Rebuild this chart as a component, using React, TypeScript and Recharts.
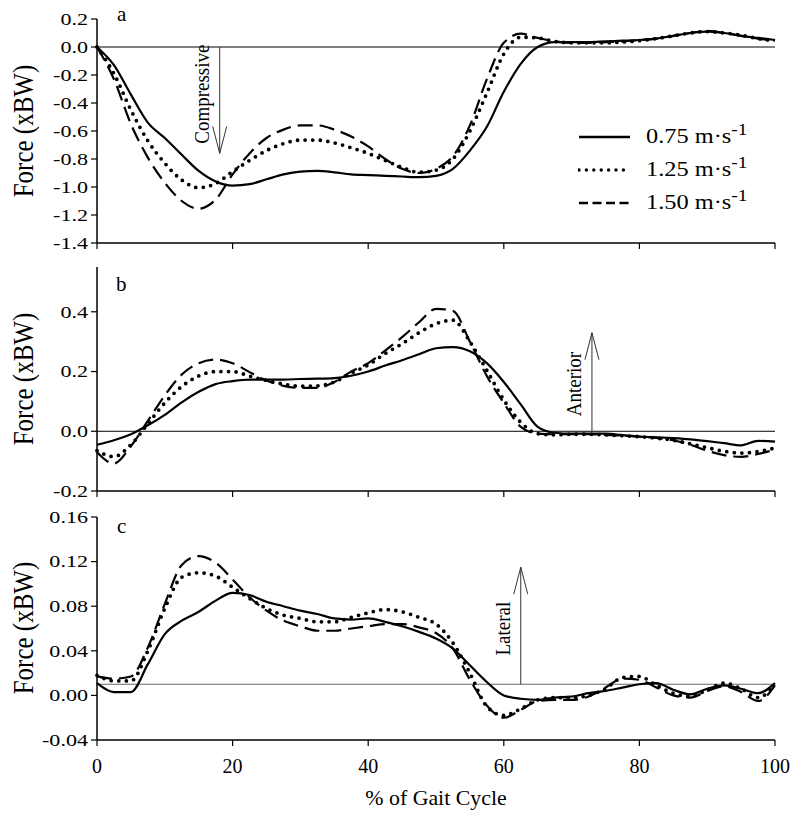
import React from "react";
import { LineChart, Line, XAxis, YAxis, ReferenceLine, Legend } from "recharts";

// % of gait cycle sampled every 2.5
const pct = [
  0, 2.5, 5, 7.5, 10, 12.5, 15, 17.5, 20, 22.5, 25, 27.5, 30, 32.5, 35, 37.5, 40, 42.5, 45, 47.5,
  50, 52.5, 55, 57.5, 60, 62.5, 65, 67.5, 70, 72.5, 75, 77.5, 80, 82.5, 85, 87.5, 90, 92.5, 95, 97.5, 100,
];

const speeds = ["0.75", "1.25", "1.50"];

// a: vertical force
const vert075 = [0, -0.13, -0.34, -0.54, -0.65, -0.77, -0.885, -0.96, -0.99, -0.98, -0.945, -0.91, -0.89, -0.885, -0.895, -0.91, -0.915, -0.92, -0.925, -0.93, -0.92, -0.87, -0.74, -0.57, -0.32, -0.12, 0.0, 0.035, 0.035, 0.035, 0.04, 0.045, 0.05, 0.06, 0.08, 0.1, 0.11, 0.1, 0.08, 0.065, 0.05];
const vert125 = [0, -0.19, -0.45, -0.67, -0.83, -0.95, -1.005, -0.975, -0.89, -0.81, -0.74, -0.69, -0.665, -0.665, -0.685, -0.72, -0.76, -0.81, -0.86, -0.895, -0.88, -0.8, -0.6, -0.33, -0.05, 0.07, 0.065, 0.04, 0.03, 0.03, 0.03, 0.035, 0.045, 0.06, 0.08, 0.1, 0.11, 0.1, 0.085, 0.06, 0.045];
const vert150 = [0, -0.23, -0.55, -0.79, -0.97, -1.1, -1.155, -1.09, -0.91, -0.76, -0.65, -0.59, -0.56, -0.56, -0.59, -0.64, -0.71, -0.8, -0.87, -0.9, -0.87, -0.78, -0.56, -0.23, 0.03, 0.095, 0.065, 0.04, 0.03, 0.03, 0.035, 0.04, 0.05, 0.06, 0.08, 0.1, 0.115, 0.1, 0.08, 0.06, 0.045];

// b: anterior-posterior force
const ant075 = [-0.045, -0.03, -0.01, 0.02, 0.055, 0.097, 0.132, 0.158, 0.168, 0.173, 0.173, 0.173, 0.175, 0.176, 0.178, 0.186, 0.2, 0.22, 0.238, 0.258, 0.278, 0.282, 0.268, 0.228, 0.165, 0.09, 0.015, -0.005, -0.008, -0.008, -0.008, -0.013, -0.018, -0.02, -0.023, -0.027, -0.033, -0.04, -0.047, -0.032, -0.035];
const ant125 = [-0.065, -0.085, -0.045, 0.025, 0.095, 0.15, 0.185, 0.2, 0.2, 0.185, 0.17, 0.158, 0.151, 0.152, 0.165, 0.195, 0.222, 0.26, 0.293, 0.33, 0.36, 0.372, 0.3, 0.204, 0.105, 0.03, -0.008, -0.012, -0.01, -0.01, -0.012, -0.015, -0.018, -0.023, -0.03, -0.042, -0.055, -0.067, -0.073, -0.068, -0.056];
const ant150 = [-0.07, -0.108, -0.05, 0.035, 0.12, 0.19, 0.228, 0.24, 0.228, 0.198, 0.17, 0.152, 0.145, 0.145, 0.165, 0.2, 0.228, 0.27, 0.315, 0.365, 0.41, 0.403, 0.3, 0.185, 0.095, 0.015, -0.008, -0.01, -0.01, -0.01, -0.012, -0.015, -0.018, -0.022, -0.03, -0.045, -0.065, -0.08, -0.086, -0.076, -0.062];

// c: medio-lateral force
const lat075 = [0.011, 0.003, 0.003, 0.028, 0.055, 0.067, 0.075, 0.085, 0.092, 0.09, 0.084, 0.08, 0.076, 0.073, 0.069, 0.068, 0.069, 0.066, 0.062, 0.057, 0.051, 0.042, 0.027, 0.012, 0.0, -0.003, -0.004, -0.002, -0.001, 0.002, 0.004, 0.007, 0.01, 0.011, 0.005, 0.001, 0.006, 0.009, 0.006, 0.002, 0.011];
const lat125 = [0.018, 0.013, 0.013, 0.04, 0.078, 0.106, 0.11, 0.107, 0.097, 0.087, 0.078, 0.072, 0.069, 0.066, 0.066, 0.07, 0.074, 0.077, 0.075, 0.07, 0.064, 0.047, 0.02, -0.01, -0.018, -0.012, -0.004, -0.002, -0.002, 0.0, 0.006, 0.016, 0.017, 0.009, 0.002, -0.001, 0.005, 0.011, 0.006, -0.002, 0.01];
const lat150 = [0.017, 0.015, 0.017, 0.043, 0.082, 0.117, 0.125, 0.119, 0.104, 0.088, 0.076, 0.067, 0.062, 0.058, 0.058, 0.06, 0.062, 0.064, 0.064, 0.061, 0.056, 0.042, 0.014, -0.009, -0.02, -0.013, -0.005, -0.004, -0.004, -0.001, 0.007, 0.015, 0.014, 0.007, 0.0, -0.002, 0.004, 0.008, 0.003, -0.005, 0.009];

const vertTicks = [-1.4, -1.2, -1.0, -0.8, -0.6, -0.4, -0.2, 0.0, 0.2];
const antTicks = [-0.2, 0.0, 0.2, 0.4];
const latTicks = [-0.04, 0.0, 0.04, 0.08, 0.12, 0.16];
const xTicks = [0, 20, 40, 60, 80, 100];

const FONT = '"Liberation Serif", "Times New Roman", Times, serif';
const keys = ["s075", "s125", "s150"];
const lineStyle = [
  { strokeWidth: 2.2, strokeDasharray: undefined as string | undefined, strokeLinecap: "butt" as const },
  { strokeWidth: 3.8, strokeDasharray: "0 7.6", strokeLinecap: "round" as const },
  { strokeWidth: 2.2, strokeDasharray: "15 7", strokeLinecap: "butt" as const },
];
const legendStyle = [
  { w: 2.5, dash: undefined as string | undefined, cap: "butt" as const },
  { w: 3.4, dash: "0 7.4", cap: "round" as const },
  { w: 2.5, dash: "9 4.5", cap: "butt" as const },
];

const build = (a: number[], b: number[], c: number[]) =>
  pct.map((x, i) => ({ x, s075: a[i], s125: b[i], s150: c[i] }));

const vertData = build(vert075, vert125, vert150);
const antData = build(ant075, ant125, ant150);
const latData = build(lat075, lat125, lat150);

const makeYTick = (digits: number) => (props: any) => {
  const { x, y, payload } = props;
  return (
    <text
      transform={`translate(${x},${y}) scale(1.3,1)`}
      textAnchor="end"
      dy="0.34em"
      fontSize={17}
      fontFamily={FONT}
      fill="#000"
    >
      {Number(payload.value).toFixed(digits)}
    </text>
  );
};

const XTick = (props: any) => (
  <text x={props.x} y={props.y} dy="0.71em" textAnchor="middle" fontSize={20} fontFamily={FONT} fill="#000">
    {props.payload.value}
  </text>
);
const NoTick = () => <g />;

const arrowShape = (label: string, shift: number) => (p: any) => {
  const { x1, y1, x2, y2 } = p;
  const dir = y2 > y1 ? 1 : -1;
  const midY = (y1 + y2) / 2 + shift;
  return (
    <g>
      <line x1={x1} y1={y1} x2={x2} y2={y2} stroke="#333" strokeWidth={1} />
      <polyline
        points={`${x2 - 7},${y2 - dir * 27} ${x2},${y2} ${x2 + 7},${y2 - dir * 27}`}
        fill="none"
        stroke="#333"
        strokeWidth={1}
      />
      <text
        transform={`translate(${x1 - 11},${midY}) rotate(-90) scale(1,1.15)`}
        textAnchor="middle"
        fontSize={19}
        fontFamily={FONT}
        fill="#000"
      >
        {label}
      </text>
    </g>
  );
};

const legendContent = () => (
  <div style={{ fontFamily: FONT, color: "#000" }}>
    {speeds.map((s, i) => (
      <div key={s} style={{ display: "flex", alignItems: "center", height: 33 }}>
        <svg width={53} height={10}>
          <line
            x1={1}
            x2={52}
            y1={5}
            y2={5}
            stroke="#000"
            strokeWidth={legendStyle[i].w}
            strokeDasharray={legendStyle[i].dash}
            strokeLinecap={legendStyle[i].cap}
          />
        </svg>
        <span
          style={{
            marginLeft: 15,
            fontSize: 21,
            lineHeight: 1,
            display: "inline-block",
            whiteSpace: "nowrap",
            transform: "scaleX(1.16)",
            transformOrigin: "left center",
          }}
        >
          {s} m·s<sup style={{ fontSize: "0.8em", lineHeight: 0 }}>-1</sup>
        </span>
      </div>
    ))}
  </div>
);

const renderLines = () =>
  keys.map((k, i) => (
    <Line
      key={k}
      dataKey={k}
      name={`${speeds[i]} m·s-1`}
      type="monotone"
      stroke="#000"
      strokeWidth={lineStyle[i].strokeWidth}
      strokeDasharray={lineStyle[i].strokeDasharray}
      strokeLinecap={lineStyle[i].strokeLinecap}
      dot={false}
      activeDot={false}
      isAnimationActive={false}
    />
  ));

const axisLine = { stroke: "#000", strokeWidth: 1.5 };
const tickLine = { stroke: "#000", strokeWidth: 1.2 };

const overlayText = (text: string, style: React.CSSProperties) => (
  <div
    style={{
      position: "absolute",
      fontFamily: FONT,
      lineHeight: 1,
      whiteSpace: "nowrap",
      color: "#000",
      ...style,
    }}
  >
    {text}
  </div>
);

const yTitle = (cy: number) =>
  overlayText("Force (xBW)", {
    left: 23,
    top: cy,
    fontSize: 25,
    transform: "translate(-50%,-50%) rotate(-90deg) scaleY(1.2)",
  });

export default function App() {
  return (
    <div style={{ position: "absolute", left: 0, top: 0, width: 797, height: 825, background: "#fff" }}>
      <div style={{ position: "absolute", left: 0, top: 0 }}>
        <LineChart width={797} height={260} data={vertData} margin={{ top: 19, right: 22, bottom: 7, left: 0 }}>
          <XAxis dataKey="x" type="number" domain={[0, 100]} ticks={xTicks} height={10} axisLine={axisLine} tickLine={tickLine} tickSize={6} tick={NoTick} />
          <YAxis type="number" domain={[-1.4, 0.2]} ticks={vertTicks} width={97} axisLine={axisLine} tickLine={tickLine} tickSize={6} tickMargin={3} tick={makeYTick(1)} interval={0} />
          <ReferenceLine y={0} stroke="#000" strokeWidth={1} />
          <ReferenceLine segment={[{ x: 18.1, y: 0 }, { x: 18.1, y: -0.76 }]} shape={arrowShape("Compressive", -6)} />
          {renderLines()}
          <Legend
            layout="vertical"
            align="center"
            verticalAlign="middle"
            content={legendContent}
            wrapperStyle={{ left: 578, top: 120, width: 210 }}
          />
        </LineChart>
      </div>
      <div style={{ position: "absolute", left: 0, top: 260 }}>
        <LineChart width={797} height={245} data={antData} margin={{ top: 7, right: 22, bottom: 4, left: 0 }}>
          <XAxis dataKey="x" type="number" domain={[0, 100]} ticks={xTicks} height={10} axisLine={axisLine} tickLine={tickLine} tickSize={6} tick={NoTick} />
          <YAxis type="number" domain={[-0.2, 0.55]} ticks={antTicks} width={97} axisLine={axisLine} tickLine={tickLine} tickSize={6} tickMargin={3} tick={makeYTick(1)} interval={0} allowDataOverflow />
          <ReferenceLine y={0} stroke="#000" strokeWidth={1} />
          <ReferenceLine segment={[{ x: 73, y: 0 }, { x: 73, y: 0.33 }]} shape={arrowShape("Anterior", 2)} />
          {renderLines()}
        </LineChart>
      </div>
      <div style={{ position: "absolute", left: 0, top: 505 }}>
        <LineChart width={797} height={320} data={latData} margin={{ top: 12, right: 22, bottom: 40, left: 0 }}>
          <XAxis dataKey="x" type="number" domain={[0, 100]} ticks={xTicks} height={45} axisLine={axisLine} tickLine={tickLine} tickSize={6} tickMargin={13} tick={XTick} interval={0} />
          <YAxis type="number" domain={[-0.04, 0.16]} ticks={latTicks} width={97} axisLine={axisLine} tickLine={tickLine} tickSize={6} tickMargin={3} tick={makeYTick(2)} interval={0} />
          <ReferenceLine y={0.01} stroke="#555" strokeWidth={0.9} />
          <ReferenceLine segment={[{ x: 62.5, y: 0.01 }, { x: 62.5, y: 0.115 }]} shape={arrowShape("Lateral", 3)} />
          {renderLines()}
        </LineChart>
      </div>
      {yTitle(131)}
      {yTitle(379)}
      {yTitle(628)}
      {overlayText("a", { left: 117, top: 4, fontSize: 21 })}
      {overlayText("b", { left: 116, top: 274, fontSize: 21 })}
      {overlayText("c", { left: 117, top: 516, fontSize: 21 })}
      {overlayText("% of Gait Cycle", {
        left: 436,
        top: 788,
        fontSize: 21,
        transform: "translateX(-50%) scaleX(1.04)",
      })}
    </div>
  );
}
